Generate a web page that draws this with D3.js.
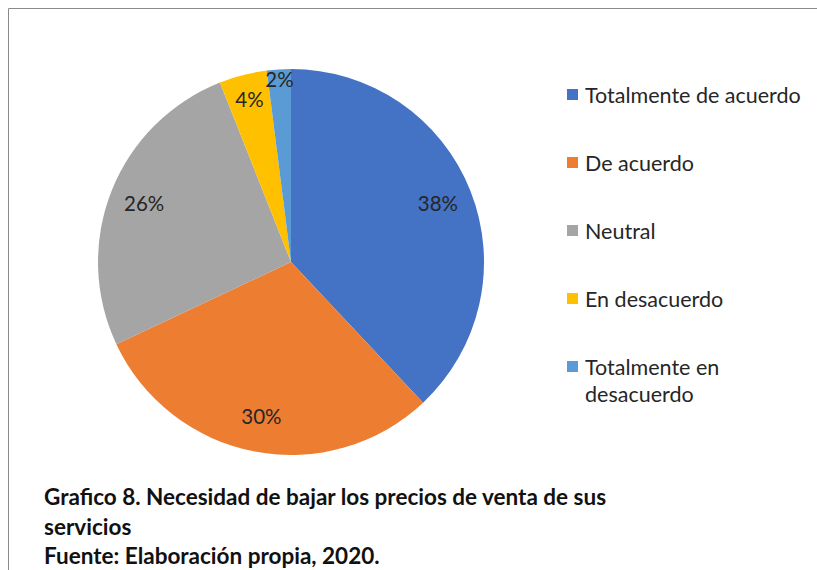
<!DOCTYPE html>
<html><head><meta charset="utf-8">
<script src="https://cdn.jsdelivr.net/npm/d3@7"></script>
<style>html,body{margin:0;padding:0;background:#fff;} svg{display:block;}</style>
</head><body>
<svg id="chart" width="817" height="570"></svg>
<script>
const categories = ["Totalmente de acuerdo","De acuerdo","Neutral","En desacuerdo","Totalmente en desacuerdo"];
const values = [38, 30, 26, 4, 2];
const colors = ["#4472C4","#ED7D31","#A5A5A5","#FFC000","#5B9BD5"];
const legendLines = [["Totalmente de acuerdo"],["De acuerdo"],["Neutral"],["En desacuerdo"],["Totalmente en","desacuerdo"]];
const captionLines = ["Grafico 8. Necesidad de bajar los precios de venta de sus","servicios","Fuente: Elaboración propia, 2020."];

const svg = d3.select("#chart");
const font = "Lato, 'Open Sans', sans-serif";

// frame
svg.append("path").attr("d","M8.5,570 V8.5 H817").attr("fill","none").attr("stroke","#8a8a8a").attr("stroke-width",1);

const cx = 291, cy = 262, r = 193;
const pie = d3.pie().sort(null).value(d => d)(values);
const arc = d3.arc().innerRadius(0).outerRadius(r);
const g = svg.append("g").attr("transform",`translate(${cx},${cy})`);
g.selectAll("path").data(pie).join("path")
  .attr("d", arc).attr("fill",(d,i)=>colors[i]);

function labelR(d){ const v = d.value; return v < 3 ? 183 : (v < 5 ? 167 : 158); }
g.selectAll("text").data(pie).join("text")
  .attr("transform", d => { const a=(d.startAngle+d.endAngle)/2, lr=labelR(d); return `translate(${Math.sin(a)*lr},${-Math.cos(a)*lr})`; })
  .attr("text-anchor","middle").attr("dy","0.35em")
  .attr("font-family",font).attr("font-size",20.5).attr("fill","#262626")
  .text((d,i)=>values[i]+"%");

// legend
const ly = d3.scalePoint().domain(categories).range([95, 367]);
const lg = svg.append("g");
categories.forEach((c,i)=>{
  const y = ly(c);
  lg.append("rect").attr("x",567).attr("y",y-6).attr("width",11).attr("height",11).attr("fill",colors[i]);
  legendLines[i].forEach((t,j)=>{
    lg.append("text").attr("x",585).attr("y",y+j*27).attr("dy","0.35em")
      .attr("font-family",font).attr("font-size",21.5).attr("fill","#262626").text(t);
  });
});

// caption
captionLines.forEach((t,i)=>{
  svg.append("text").attr("x",44).attr("y",505+i*29.5)
    .attr("font-family",font).attr("font-weight","bold").attr("font-size",22.5).attr("fill","#111").text(t);
});
</script>
</body></html>
